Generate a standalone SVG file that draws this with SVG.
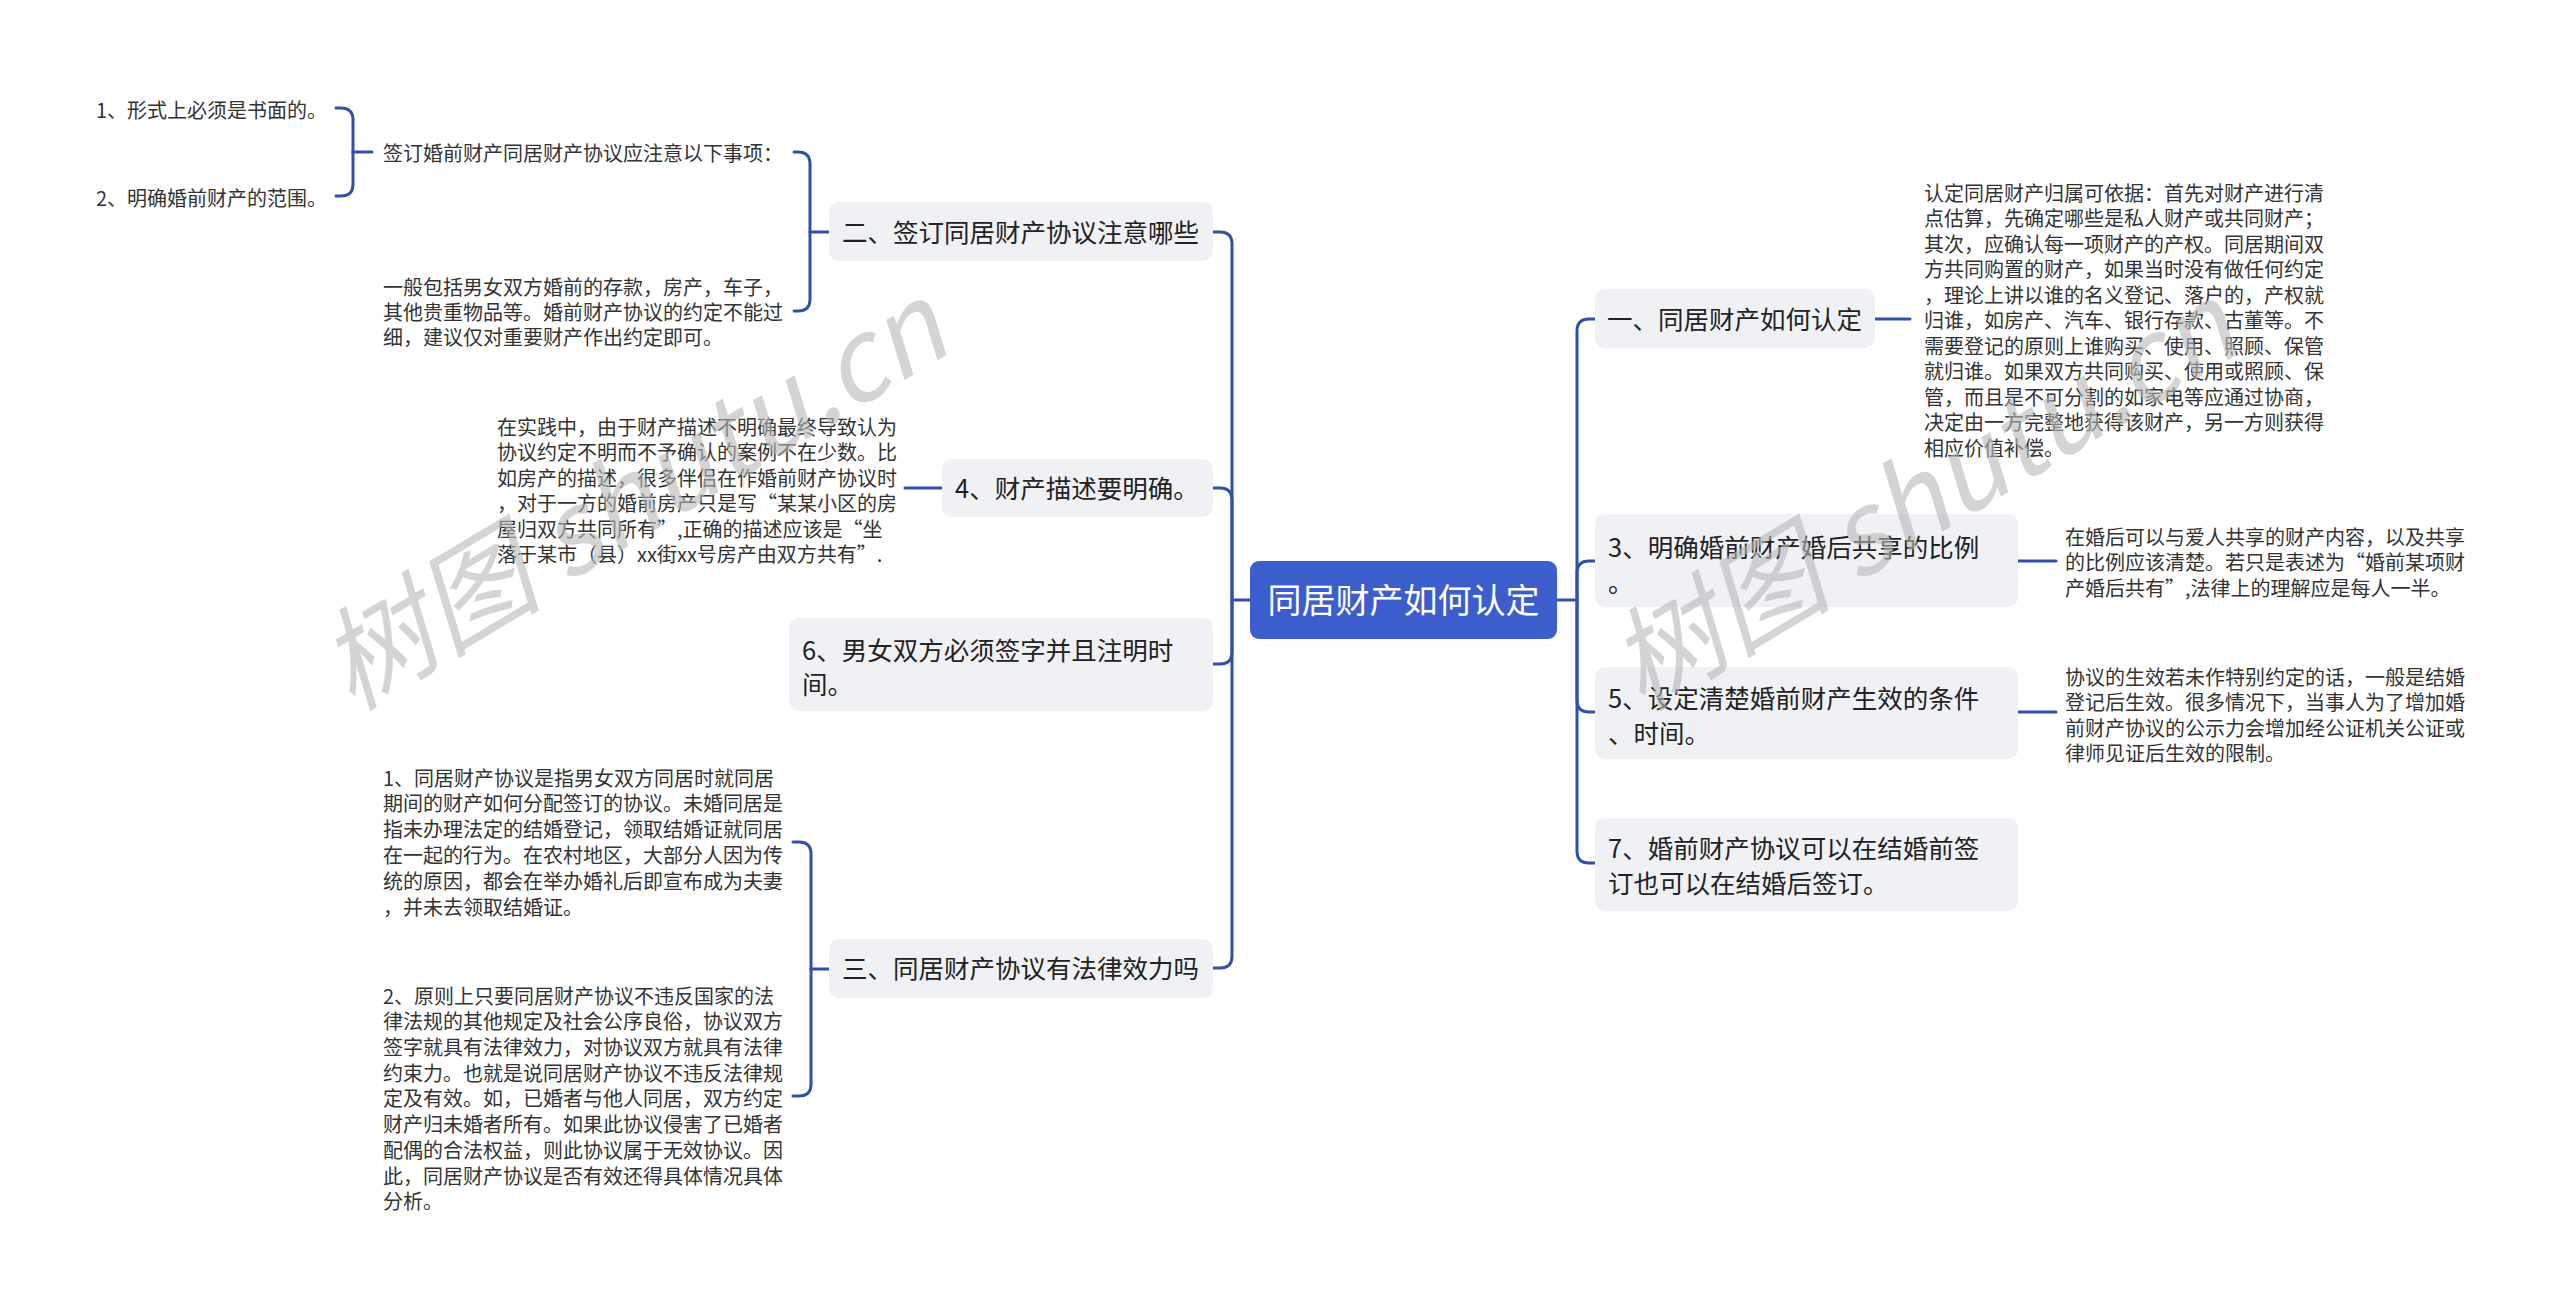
<svg xmlns="http://www.w3.org/2000/svg" width="2560" height="1307" viewBox="0 0 2560 1307">
<style>
  .bg{fill:#ffffff}
  .node rect{fill:#eff1f5}
  .node text{font-family:"Noto Sans CJK SC","Noto Sans",sans-serif;font-size:25.5px;fill:#222222}
  .root rect{fill:#3b5ecc}
  .root text{font-family:"Noto Sans CJK SC","Noto Sans",sans-serif;font-size:34px;fill:#ffffff}
  .leaf text{font-family:"Noto Sans CJK SC","Noto Sans",sans-serif;font-size:20px;fill:#333333}
  .conn path{fill:none;stroke:#3150a8;stroke-width:3;stroke-linecap:round}
  .wm{font-family:"Noto Sans CJK SC","Noto Sans",sans-serif;font-size:112px;font-style:italic;fill:#b8b8b8;fill-opacity:0.6}
</style>
<rect class="bg" x="0" y="0" width="2560" height="1307"/>

<g id="connectors" class="conn">
  <path d="M1250,600 H1232"/>
  <path d="M1232,600 V244 Q1232,232 1220,232 H1213"/>
  <path d="M1232,600 V500 Q1232,488 1220,488 H1213"/>
  <path d="M1232,600 V652 Q1232,664 1220,664 H1213"/>
  <path d="M1232,600 V956 Q1232,968 1220,968 H1213"/>
  <path d="M1557,600 H1577"/>
  <path d="M1577,600 V331 Q1577,319 1589,319 H1595"/>
  <path d="M1577,600 V573 Q1577,561 1589,561 H1595"/>
  <path d="M1577,600 V700 Q1577,712 1589,712 H1595"/>
  <path d="M1577,600 V851 Q1577,863 1589,863 H1595"/>
  <path d="M829,232 H810"/>
  <path d="M810,232 V164 Q810,152 798,152 H794"/>
  <path d="M810,232 V299 Q810,311 798,311 H794"/>
  <path d="M372,152 H353"/>
  <path d="M353,152 V120 Q353,108 341,108 H336"/>
  <path d="M353,152 V184 Q353,196 341,196 H336"/>
  <path d="M942,488 H905"/>
  <path d="M829,969 H811"/>
  <path d="M811,969 V854 Q811,842 799,842 H793"/>
  <path d="M811,969 V1084 Q811,1096 799,1096 H793"/>
  <path d="M1875,319 H1910"/>
  <path d="M2018,561 H2056"/>
  <path d="M2018,712 H2056"/>
</g>

<g id="root" class="root">
  <rect x="1250" y="561" width="307" height="78" rx="9"/>
  <text x="1403.5" y="613" text-anchor="middle">同居财产如何认定</text>
</g>

<g id="n2" class="node">
  <rect x="829" y="202" width="384" height="59" rx="10"/>
  <text x="842" y="242">二、签订同居财产协议注意哪些</text>
</g>
<g id="n4" class="node">
  <rect x="942" y="459" width="271" height="58" rx="10"/>
  <text x="955" y="498">4、财产描述要明确。</text>
</g>
<g id="n6" class="node">
  <rect x="789" y="618" width="424" height="93" rx="10"/>
  <text x="802" y="660">6、男女双方必须签字并且注明时</text>
  <text x="802" y="694">间。</text>
</g>
<g id="n3l" class="node">
  <rect x="829" y="939" width="384" height="59" rx="10"/>
  <text x="842" y="978">三、同居财产协议有法律效力吗</text>
</g>

<g id="n1r" class="node">
  <rect x="1595" y="289" width="280" height="59" rx="10"/>
  <text x="1607" y="329">一、同居财产如何认定</text>
</g>
<g id="n3r" class="node">
  <rect x="1595" y="514" width="423" height="93" rx="10"/>
  <text x="1608" y="557">3、明确婚前财产婚后共享的比例</text>
  <text x="1608" y="592">。</text>
</g>
<g id="n5r" class="node">
  <rect x="1595" y="667" width="423" height="92" rx="10"/>
  <text x="1608" y="708">5、设定清楚婚前财产生效的条件</text>
  <text x="1608" y="743">、时间。</text>
</g>
<g id="n7r" class="node">
  <rect x="1595" y="818" width="423" height="93" rx="10"/>
  <text x="1608" y="858">7、婚前财产协议可以在结婚前签</text>
  <text x="1608" y="893">订也可以在结婚后签订。</text>
</g>

<g id="leaf-2a1" class="leaf"><text x="96" y="117.5">1、形式上必须是书面的。</text></g>
<g id="leaf-2a2" class="leaf"><text x="96" y="205.5">2、明确婚前财产的范围。</text></g>
<g id="leaf-2a" class="leaf"><text x="383" y="160.5">签订婚前财产同居财产协议应注意以下事项：</text></g>
<g id="leaf-2b" class="leaf">
  <text x="383" y="294.5">一般包括男女双方婚前的存款，房产，车子，</text>
  <text x="383" y="319.5">其他贵重物品等。婚前财产协议的约定不能过</text>
  <text x="383" y="344.5">细，建议仅对重要财产作出约定即可。</text>
</g>
<g id="leaf-4" class="leaf">
  <text x="497" y="434.6">在实践中，由于财产描述不明确最终导致认为</text>
  <text x="497" y="460.1">协议约定不明而不予确认的案例不在少数。比</text>
  <text x="497" y="485.6">如房产的描述，很多伴侣在作婚前财产协议时</text>
  <text x="497" y="511.1">，对于一方的婚前房产只是写“某某小区的房</text>
  <text x="497" y="536.6">屋归双方共同所有”,正确的描述应该是“坐</text>
  <text x="497" y="562.1">落于某市（县）xx街xx号房产由双方共有”.</text>
</g>
<g id="leaf-3a" class="leaf">
  <text x="383" y="785.6">1、同居财产协议是指男女双方同居时就同居</text>
  <text x="383" y="811.4">期间的财产如何分配签订的协议。未婚同居是</text>
  <text x="383" y="837.2">指未办理法定的结婚登记，领取结婚证就同居</text>
  <text x="383" y="863">在一起的行为。在农村地区，大部分人因为传</text>
  <text x="383" y="888.8">统的原因，都会在举办婚礼后即宣布成为夫妻</text>
  <text x="383" y="914.6">，并未去领取结婚证。</text>
</g>
<g id="leaf-3b" class="leaf">
  <text x="383" y="1003.6">2、原则上只要同居财产协议不违反国家的法</text>
  <text x="383" y="1029.3">律法规的其他规定及社会公序良俗，协议双方</text>
  <text x="383" y="1055">签字就具有法律效力，对协议双方就具有法律</text>
  <text x="383" y="1080.7">约束力。也就是说同居财产协议不违反法律规</text>
  <text x="383" y="1106.4">定及有效。如，已婚者与他人同居，双方约定</text>
  <text x="383" y="1132.1">财产归未婚者所有。如果此协议侵害了已婚者</text>
  <text x="383" y="1157.8">配偶的合法权益，则此协议属于无效协议。因</text>
  <text x="383" y="1183.5">此，同居财产协议是否有效还得具体情况具体</text>
  <text x="383" y="1209.2">分析。</text>
</g>

<g id="leaf-1r" class="leaf">
  <text x="1924" y="200.6">认定同居财产归属可依据：首先对财产进行清</text>
  <text x="1924" y="226.1">点估算，先确定哪些是私人财产或共同财产；</text>
  <text x="1924" y="251.6">其次，应确认每一项财产的产权。同居期间双</text>
  <text x="1924" y="277.1">方共同购置的财产，如果当时没有做任何约定</text>
  <text x="1924" y="302.6">，理论上讲以谁的名义登记、落户的，产权就</text>
  <text x="1924" y="328.1">归谁，如房产、汽车、银行存款、古董等。不</text>
  <text x="1924" y="353.6">需要登记的原则上谁购买、使用、照顾、保管</text>
  <text x="1924" y="379.1">就归谁。如果双方共同购买、使用或照顾、保</text>
  <text x="1924" y="404.6">管，而且是不可分割的如家电等应通过协商，</text>
  <text x="1924" y="430.1">决定由一方完整地获得该财产，另一方则获得</text>
  <text x="1924" y="455.6">相应价值补偿。</text>
</g>
<g id="leaf-3r" class="leaf">
  <text x="2065" y="544.6">在婚后可以与爱人共享的财产内容，以及共享</text>
  <text x="2065" y="570.1">的比例应该清楚。若只是表述为“婚前某项财</text>
  <text x="2065" y="595.6">产婚后共有”,法律上的理解应是每人一半。</text>
</g>
<g id="leaf-5r" class="leaf">
  <text x="2065" y="684.6">协议的生效若未作特别约定的话，一般是结婚</text>
  <text x="2065" y="710.1">登记后生效。很多情况下，当事人为了增加婚</text>
  <text x="2065" y="735.6">前财产协议的公示力会增加经公证机关公证或</text>
  <text x="2065" y="761.1">律师见证后生效的限制。</text>
</g>

<g id="watermarks">
  <text class="wm" transform="translate(352,712) rotate(-31)">树图 shutu.cn</text>
  <text class="wm" transform="translate(1642,712) rotate(-31)">树图 shutu.cn</text>
</g>
</svg>
